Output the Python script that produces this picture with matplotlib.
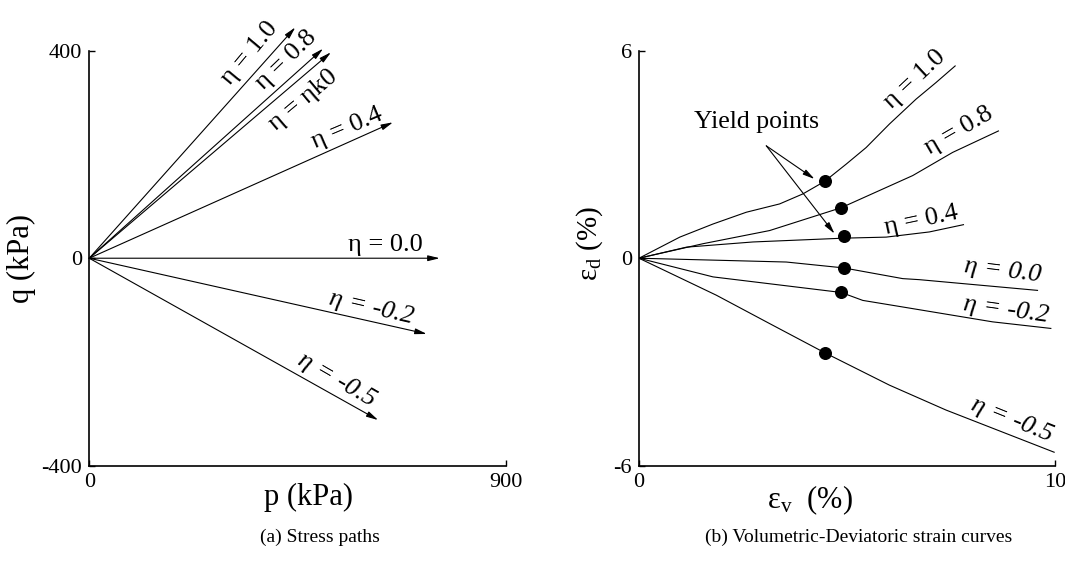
import matplotlib
matplotlib.use('Agg')
import matplotlib.pyplot as plt

plt.rcParams['font.family'] = ['Liberation Serif', 'DejaVu Serif']
plt.rcParams['mathtext.fontset'] = 'custom'
plt.rcParams['mathtext.rm'] = 'Liberation Serif'
plt.rcParams['mathtext.it'] = 'Liberation Serif:italic'
plt.rcParams['axes.unicode_minus'] = False

# (a) stress paths: arrow tips (p, q) in kPa
path_names = ['η = 1.0', 'η = 0.8', 'η = ηk0', 'η = 0.4', 'η = 0.0', 'η = -0.2', 'η = -0.5']
path_p = [445, 505, 522, 656, 757, 729, 624]
path_q = [445, 404, 397, 262, 0, -146, -312]
# label anchors and angles
path_lab_p = [347, 426, 462, 556, 639, 610, 534]
path_lab_q = [395, 382, 305, 250, 25, -96, -235]
path_lab_rot = [50, 44, 40, 23, 0, -13, -30]
path_lab_style = ['normal', 'normal', 'normal', 'normal', 'normal', 'italic', 'italic']

# (b) strain curves: eps_v (%) and eps_d (%)
curves = {
    'η = 1.0': ([0, 0.98, 1.78, 2.58, 3.38, 3.94, 4.46, 4.98, 5.46, 6.02, 6.66, 7.14, 7.60],
                [0, 0.61, 0.99, 1.33, 1.57, 1.86, 2.22, 2.72, 3.20, 3.88, 4.60, 5.08, 5.56]),
    'η = 0.8': ([0, 1.54, 3.14, 4.86, 6.58, 7.54, 8.64],
                [0, 0.42, 0.80, 1.46, 2.39, 3.06, 3.68]),
    'η = 0.4': ([0, 1.14, 2.74, 4.92, 5.94, 6.98, 7.80],
                [0, 0.32, 0.47, 0.58, 0.61, 0.76, 0.97]),
    'η = 0.0': ([0, 1.94, 3.54, 4.92, 6.34, 6.74, 9.58],
                [0, -0.06, -0.11, -0.28, -0.59, -0.62, -0.93]),
    'η = -0.2': ([0, 1.78, 4.86, 5.38, 6.34, 8.50, 9.90],
                 [0, -0.54, -0.99, -1.22, -1.41, -1.84, -2.03]),
    'η = -0.5': ([0, 1.86, 3.14, 4.46, 6.02, 7.38, 9.98],
                 [0, -1.07, -1.89, -2.73, -3.67, -4.39, -5.61]),
}
yield_ev = [4.46, 4.86, 4.92, 4.92, 4.86, 4.46]
yield_ed = [2.22, 1.46, 0.64, -0.28, -0.99, -2.73]
curve_lab_x = [6.62, 7.70, 6.78, 8.74, 8.82, 8.97]
curve_lab_y = [5.17, 3.68, 1.09, -0.35, -1.50, -4.67]
curve_lab_rot = [43, 30, 12, -7, -8, -22]
curve_lab_style = ['normal', 'normal', 'normal', 'italic', 'italic', 'italic']

fig = plt.figure(figsize=(10.65, 5.63), dpi=100)
ax1 = fig.add_axes([0.0838, 0.1728, 0.3913, 0.7371])
ax2 = fig.add_axes([0.6, 0.1728, 0.3906, 0.7371])

for ax in (ax1, ax2):
    for s in ('top', 'right'):
        ax.spines[s].set_visible(False)
    for s in ('left', 'bottom'):
        ax.spines[s].set_linewidth(1.2)
    ax.tick_params(direction='in', length=4, width=1.0, labelsize=16, pad=5)

# ---- (a) stress paths
ax1.set_xlim(0, 900)
ax1.set_ylim(-400, 400)
ax1.set_xticks([0, 900])
ax1.set_yticks([-400, 0, 400])
for p, q in zip(path_p, path_q):
    ax1.annotate('', xy=(p, q), xytext=(0, 0), annotation_clip=False,
                 arrowprops=dict(arrowstyle='-|>,head_length=0.7,head_width=0.17',
                                 lw=0.8, color='k', shrinkA=0, shrinkB=0))
for name, x, y, r, st in zip(path_names, path_lab_p, path_lab_q, path_lab_rot, path_lab_style):
    ax1.text(x, y, name, rotation=r, fontsize=19, style=st, ha='center', va='center',
             rotation_mode='anchor', clip_on=False)
ax1.set_xlabel('p (kPa)', fontsize=22)
ax1.set_ylabel('q (kPa)', fontsize=22)
ax1.xaxis.set_label_coords(0.525, -0.042)
ax1.yaxis.set_label_coords(-0.128, 0.5)

# ---- (b) strain curves
ax2.set_xlim(0, 10)
ax2.set_ylim(-6, 6)
ax2.set_xticks([0, 10])
ax2.set_yticks([-6, 0, 6])
for name, (xs, ys) in curves.items():
    ax2.plot(xs, ys, color='k', lw=0.8)
ax2.scatter(yield_ev, yield_ed, s=70, color='k', zorder=3)
for name, x, y, r, st in zip(curves.keys(), curve_lab_x, curve_lab_y, curve_lab_rot, curve_lab_style):
    ax2.text(x, y, name, rotation=r, fontsize=19, style=st, ha='center', va='center',
             rotation_mode='anchor', clip_on=False)
ax2.text(2.82, 3.94, 'Yield points', fontsize=18.5, ha='center', va='center')
for tip in [(4.22, 2.29), (4.70, 0.71)]:
    ax2.annotate('', xy=tip, xytext=(3.06, 3.25),
                 arrowprops=dict(arrowstyle='-|>,head_length=0.7,head_width=0.17',
                                 lw=0.8, color='k', shrinkA=0, shrinkB=0))
ax2.set_xlabel(r'$\mathrm{\varepsilon}_\mathrm{v}$  (%)', fontsize=22)
ax2.set_ylabel(r'$\mathrm{\varepsilon}_\mathrm{d}$ (%)', fontsize=21)
ax2.xaxis.set_label_coords(0.41, -0.042)
ax2.yaxis.set_label_coords(-0.082, 0.535)

fig.text(0.30, 0.046, '(a) Stress paths', fontsize=14, ha='center', va='center')
fig.text(0.806, 0.046, '(b) Volumetric-Deviatoric strain curves', fontsize=14,
         ha='center', va='center')

fig.savefig('out.png', dpi=100)
